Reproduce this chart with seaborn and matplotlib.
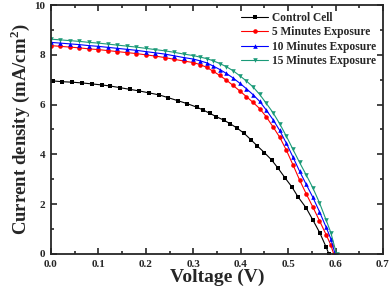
import pandas as pd
import matplotlib
matplotlib.use('Agg')
import matplotlib.pyplot as plt
import seaborn as sns
from matplotlib.ticker import MultipleLocator

# J-V data (V in volts, J in mA/cm2)
control_v = [0.005, 0.024, 0.045, 0.066, 0.087, 0.107, 0.124, 0.146, 0.167, 0.186,
             0.207, 0.228, 0.247, 0.267, 0.287, 0.307, 0.321, 0.335, 0.349, 0.364,
             0.378, 0.392, 0.407, 0.422, 0.435, 0.450, 0.465, 0.479, 0.493, 0.508,
             0.521, 0.538, 0.552, 0.567, 0.580, 0.586]
control_j = [6.95, 6.92, 6.90, 6.87, 6.83, 6.79, 6.75, 6.68, 6.61, 6.55,
             6.47, 6.39, 6.28, 6.16, 6.04, 5.90, 5.78, 5.65, 5.51, 5.38,
             5.23, 5.06, 4.85, 4.58, 4.34, 4.07, 3.78, 3.44, 3.07, 2.69,
             2.29, 1.85, 1.37, 0.84, 0.28, 0.00]

exp_v = [0.00, 0.02, 0.04, 0.06, 0.08, 0.10, 0.12, 0.14, 0.16, 0.18,
         0.20, 0.22, 0.24, 0.26, 0.28, 0.30, 0.314, 0.328, 0.342, 0.356,
         0.370, 0.384, 0.398, 0.412, 0.426, 0.440, 0.454, 0.468, 0.482, 0.496,
         0.510, 0.524, 0.538, 0.552, 0.566, 0.580, 0.590]
red_j = [8.37, 8.34, 8.31, 8.28, 8.24, 8.21, 8.17, 8.13, 8.09, 8.05,
         8.00, 7.95, 7.89, 7.82, 7.75, 7.69, 7.61, 7.50, 7.34, 7.17,
         6.98, 6.77, 6.55, 6.32, 6.09, 5.84, 5.51, 5.11, 4.70, 4.18,
         3.59, 2.98, 2.42, 1.89, 1.34, 0.78, 0.36]
blue_j = [8.50, 8.47, 8.44, 8.41, 8.37, 8.34, 8.30, 8.26, 8.22, 8.18,
          8.13, 8.08, 8.03, 7.96, 7.89, 7.83, 7.76, 7.68, 7.55, 7.41,
          7.25, 7.07, 6.86, 6.64, 6.40, 6.13, 5.78, 5.40, 4.97, 4.46,
          3.90, 3.33, 2.80, 2.28, 1.70, 1.08, 0.61]
green_j = [8.63, 8.60, 8.57, 8.54, 8.50, 8.47, 8.43, 8.39, 8.35, 8.31,
           8.26, 8.21, 8.16, 8.10, 8.03, 7.97, 7.91, 7.85, 7.76, 7.65,
           7.52, 7.36, 7.16, 6.95, 6.71, 6.41, 6.05, 5.68, 5.24, 4.74,
           4.21, 3.68, 3.18, 2.66, 2.06, 1.37, 0.86]
voc = [0.596, 0.599, 0.602]  # where each exposure curve meets J = 0

labels = ['Control Cell', '5 Minutes Exposure', '10 Minutes Exposure', '15 Minutes Exposure']

sns.set_style('ticks')
plt.rcParams['font.family'] = ['Liberation Serif', 'DejaVu Serif']
plt.rcParams['font.weight'] = 'bold'
plt.rcParams['mathtext.fontset'] = 'custom'
plt.rcParams['mathtext.bf'] = 'Liberation Serif:bold'
plt.rcParams['mathtext.rm'] = 'Liberation Serif:bold'

fig = plt.figure(figsize=(3.92, 2.97), dpi=100)
ax = fig.add_axes([0.130, 0.145, 0.847, 0.838])

series = [
    (control_v, control_j, 'black', 's'),
    (exp_v + [voc[0]], red_j + [0.0], '#ff0000', 'o'),
    (exp_v + [voc[1]], blue_j + [0.0], '#0000ff', '^'),
    (exp_v + [voc[2]], green_j + [0.0], '#1a9a78', 'v'),
]
for (v, j, c, m), lab in zip(series, labels):
    df = pd.DataFrame({'V': v, 'J': j})
    sns.lineplot(data=df, x='V', y='J', color=c, marker=m, markersize=3.3,
                 markeredgewidth=0, linewidth=0.8, sort=False, label=lab, ax=ax)

ax.set_xlim(0, 0.7)
ax.set_ylim(0, 10)
ax.xaxis.set_major_locator(MultipleLocator(0.1))
ax.xaxis.set_minor_locator(MultipleLocator(0.05))
ax.yaxis.set_major_locator(MultipleLocator(2))
ax.yaxis.set_minor_locator(MultipleLocator(1))
ax.tick_params(which='both', direction='in', top=True, right=True, width=1.2)
ax.tick_params(which='major', length=4, labelsize=8)
ax.tick_params(axis='x', which='major', pad=4.5)
ax.tick_params(axis='y', which='major', pad=4)
ax.tick_params(which='minor', length=2.5)
for sp in ax.spines.values():
    sp.set_linewidth(1.3)
ax.set_xticklabels([f'{t:.1f}' for t in ax.get_xticks()], fontweight='bold')
ax.set_yticklabels([f'{int(t)}' for t in ax.get_yticks()], fontweight='bold')

ax.set_xlabel('Voltage (V)', fontsize=14, fontweight='bold', labelpad=0)
ax.set_ylabel('Current density (mA/cm$^{\\mathbf{2}}$)', fontsize=13.5,
              fontweight='bold', labelpad=2)

leg = ax.legend(loc='upper right', bbox_to_anchor=(1.0, 1.0), frameon=False,
                fontsize=8.3, handlelength=2.4, labelspacing=0.2,
                handletextpad=0.3, borderaxespad=0.2)
for t in leg.get_texts():
    t.set_fontweight('bold')

fig.savefig('out.png', dpi=100)
